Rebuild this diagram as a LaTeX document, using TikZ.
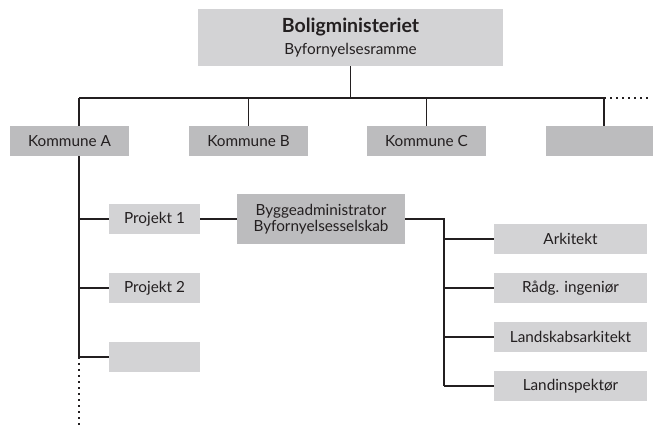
\documentclass[tikz,border=0pt]{standalone}
\usepackage{fontspec}
\setmainfont{Lato}
\usepackage{tikz}
\definecolor{boxlight}{HTML}{D3D3D5}
\definecolor{boxdark}{HTML}{BCBCBE}
\definecolor{linegray}{HTML}{231F20}

\begin{document}
\begin{tikzpicture}[x=1pt,y=-1pt,
		box/.style={rectangle,inner sep=0pt,minimum height=30pt,align=center,font=\fontsize{15.3}{17}\selectfont,text=linegray},
		conn/.style={draw=linegray,line width=1.6pt},
		dots/.style={draw=linegray,line width=1.6pt,dash pattern=on 1.6pt off 4.4pt}]
		\useasboundingbox (0,0) rectangle (653,427);
		% ministry
		\node[box,fill=boxlight,minimum width=305pt,minimum height=57pt] (mini) at (350.5,37.5) {{\fontsize{19.5}{21}\selectfont\bfseries Boligministeriet}\\[5pt]Byfornyelsesramme};
		% kommuner
		\node[box,fill=boxdark,minimum width=119pt] (komA) at (69.5,141) {Kommune A};
		\node[box,fill=boxdark,minimum width=119pt] (komB) at (248.5,141) {Kommune B};
		\node[box,fill=boxdark,minimum width=119pt] (komC) at (426.5,141) {Kommune C};
		\node[box,fill=boxdark,minimum width=107pt] (komD) at (599.5,141) {};
		% projekter
		\node[box,fill=boxlight,minimum width=91pt] (proj1) at (154.5,219) {Projekt 1};
		\node[box,fill=boxlight,minimum width=91pt] (proj2) at (154.5,288) {Projekt 2};
		\node[box,fill=boxlight,minimum width=91pt] (proj3) at (154.5,357) {};
		\node[box,fill=boxdark,minimum width=168pt,minimum height=50pt,font=\fontsize{15.3}{16.5}\selectfont] (bygge) at (321,219) {Byggeadministrator\\Byfornyelsesselskab};
		% raadgivere
		\node[box,fill=boxlight,minimum width=153pt] (ark) at (570.5,239) {Arkitekt};
		\node[box,fill=boxlight,minimum width=153pt] (radg) at (570.5,288) {Rådg. ingeniør};
		\node[box,fill=boxlight,minimum width=153pt] (landsk) at (570.5,337) {Landskabsarkitekt};
		\node[box,fill=boxlight,minimum width=153pt] (landi) at (570.5,386) {Landinspektør};
		% bus
		\coordinate (busA) at (79,98);
		\coordinate (busD) at (604,98);
		\coordinate (busEnd) at (651,98);
		\coordinate (trunkEnd) at (79,425);
		\coordinate (trunkB) at (444,219);
		\draw[conn] (mini.south) -- (mini.south |- busA);
		\draw[conn] (busA) -- (busD);
		\draw[dots] (busD) -- (busEnd);
		\draw[conn] (busA) -- (busA |- komA.north);
		\draw[conn] (komB.north |- busA) -- (komB.north);
		\draw[conn] (komC.north |- busA) -- (komC.north);
		\draw[conn] (busD) -- (busD |- komD.north);
		% kommune A
		\draw[conn] (busA |- komA.south) -- (busA |- proj3.west);
		\draw[dots] (busA |- proj3.west) -- (trunkEnd);
		\foreach \p in {proj1,proj2,proj3}
			\draw[conn] (busA |- \p.west) -- (\p.west);
		\draw[conn] (proj1.east) -- (bygge.west |- proj1.east);
		% byggeadministrator
		\draw[conn] (bygge.east |- trunkB) -- (trunkB) -- (trunkB |- landi.west);
		\foreach \r in {ark,radg,landsk,landi}
			\draw[conn] (trunkB |- \r.west) -- (\r.west);
	\end{tikzpicture}
\end{document}
